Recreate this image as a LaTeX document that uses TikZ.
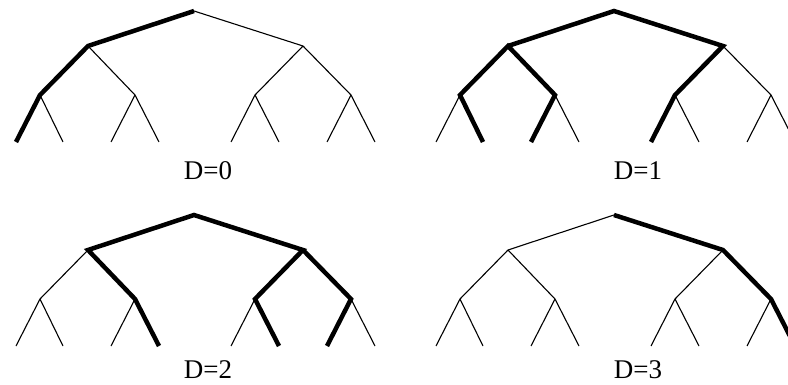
\documentclass[tikz,border=0pt]{standalone}
\usepackage{fontspec}
\setmainfont{Liberation Serif}
\newcommand\mktree[3]{%
  \coordinate (#1r)  at (#2+194,#3+11);
  \coordinate (#1L)  at (#2+88,#3+46);
  \coordinate (#1R)  at (#2+303,#3+46);
  \coordinate (#1LL) at (#2+40,#3+95);
  \coordinate (#1LR) at (#2+135,#3+95);
  \coordinate (#1RL) at (#2+255,#3+95);
  \coordinate (#1RR) at (#2+351,#3+95);
  \coordinate (#1a)  at (#2+16,#3+142);
  \coordinate (#1b)  at (#2+63,#3+142);
  \coordinate (#1c)  at (#2+111,#3+142);
  \coordinate (#1d)  at (#2+159,#3+142);
  \coordinate (#1e)  at (#2+231,#3+142);
  \coordinate (#1f)  at (#2+279,#3+142);
  \coordinate (#1g)  at (#2+327,#3+142);
  \coordinate (#1h)  at (#2+375,#3+142);
}
\begin{document}
\begin{tikzpicture}[x=1pt,y=-1pt,
  thin edge/.style={draw=black,line width=1.1pt},
  bold edge/.style={draw=black,line width=4.5pt,line join=miter,line cap=butt},
  lab/.style={anchor=base,font=\fontsize{27}{30}\selectfont,inner sep=0pt}]
\useasboundingbox (0,0) rectangle (788,385);
\clip (0,0) rectangle (788,385);
\mktree{A}{0}{0}
\mktree{B}{420}{0}
\mktree{C}{0}{204}
\mktree{E}{420}{204}
% D=0
\path[thin edge] (Ar) -- (AR);
\path[thin edge] (AL) -- (ALR);
\path[thin edge] (ALL) -- (Ab);
\path[thin edge] (ALR) -- (Ac);
\path[thin edge] (ALR) -- (Ad);
\path[thin edge] (AR) -- (ARL);
\path[thin edge] (AR) -- (ARR);
\path[thin edge] (ARL) -- (Ae);
\path[thin edge] (ARL) -- (Af);
\path[thin edge] (ARR) -- (Ag);
\path[thin edge] (ARR) -- (Ah);
\path[bold edge] (Aa) -- (ALL) -- (AL) -- (Ar);
% D=1
\path[thin edge] (BLL) -- (Ba);
\path[thin edge] (BLR) -- (Bd);
\path[thin edge] (BR) -- (BRR);
\path[thin edge] (BRL) -- (Bf);
\path[thin edge] (BRR) -- (Bg);
\path[thin edge] (BRR) -- (Bh);
\path[bold edge] (Bb) -- (BLL) -- (BL) -- (BLR) -- (Bc);
\path[bold edge] (BL) -- (Br) -- (BR) -- (BRL) -- (Be);
% D=2
\path[thin edge] (CL) -- (CLL);
\path[thin edge] (CLL) -- (Ca);
\path[thin edge] (CLL) -- (Cb);
\path[thin edge] (CLR) -- (Cc);
\path[thin edge] (CRL) -- (Ce);
\path[thin edge] (CRR) -- (Ch);
\path[bold edge] (Cd) -- (CLR) -- (CL) -- (Cr) -- (CR) -- (CRL) -- (Cf);
\path[bold edge] (CR) -- (CRR) -- (Cg);
% D=3
\path[thin edge] (Er) -- (EL);
\path[thin edge] (EL) -- (ELL);
\path[thin edge] (EL) -- (ELR);
\path[thin edge] (ELL) -- (Ea);
\path[thin edge] (ELL) -- (Eb);
\path[thin edge] (ELR) -- (Ec);
\path[thin edge] (ELR) -- (Ed);
\path[thin edge] (ER) -- (ERL);
\path[thin edge] (ERL) -- (Ee);
\path[thin edge] (ERL) -- (Ef);
\path[thin edge] (ERR) -- (Eg);
\path[bold edge] (Er) -- (ER) -- (ERR) -- (Eh);
% labels
\node[lab] (l0) at (208,180) {D=0};
\node[lab] (l1) at (638,180) {D=1};
\node[lab] (l2) at (208,378) {D=2};
\node[lab] (l3) at (638,378) {D=3};
\end{tikzpicture}
\end{document}
